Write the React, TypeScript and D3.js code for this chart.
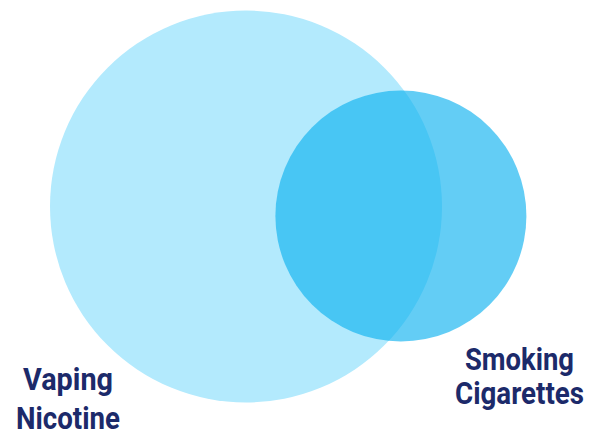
import * as d3 from "d3";
import React from "react";

// set sizes (share of respondents, vaping = 100)
const setNames = ["Vaping Nicotine", "Smoking Cigarettes"];
const setSizes = [100, 41];
const overlapSize = 26;
const labelLines = [
  ["Vaping", "Nicotine"],
  ["Smoking", "Cigarettes"],
];
const setColors = ["#b3eafd", "#0cb2f0"];
const setOpacity = [1, 0.645];

// intersection area of two circles at distance d
function overlapArea(r1: number, r2: number, d: number) {
  if (d >= r1 + r2) return 0;
  if (d <= Math.abs(r1 - r2)) return Math.PI * Math.min(r1, r2) ** 2;
  const a1 = Math.acos((d * d + r1 * r1 - r2 * r2) / (2 * d * r1));
  const a2 = Math.acos((d * d + r2 * r2 - r1 * r1) / (2 * d * r2));
  const k =
    (-d + r1 + r2) * (d + r1 - r2) * (d - r1 + r2) * (d + r1 + r2);
  return r1 * r1 * a1 + r2 * r2 * a2 - 0.5 * Math.sqrt(k);
}

// bisection for the distance that gives the wanted area
function distanceFor(r1: number, r2: number, area: number) {
  let lo = Math.abs(r1 - r2);
  let hi = r1 + r2;
  for (let i = 0; i < 60; i++) {
    const mid = (lo + hi) / 2;
    if (overlapArea(r1, r2, mid) > area) lo = mid;
    else hi = mid;
  }
  return (lo + hi) / 2;
}

export default function App() {
  const width = 604;
  const height = 432;

  const radius = d3.scaleSqrt().domain([0, setSizes[0]]).range([0, 196]);
  const radii = setSizes.map((s) => radius(s));
  const bigArea = Math.PI * radii[0] * radii[0];
  const d = distanceFor(radii[0], radii[1], (overlapSize / setSizes[0]) * bigArea);

  const origin = [246, 206.5];
  const angle = (3.5 * Math.PI) / 180;
  const centers = [
    origin,
    [origin[0] + d * Math.cos(angle), origin[1] + d * Math.sin(angle)],
  ];

  const labels = [
    { x: 68, y: [389.5, 428.5], widths: [90, 104] },
    { x: 519.5, y: [370, 403.5], widths: [109, 129] },
  ];

  return (
    <svg
      width={width}
      height={height}
      style={{ position: "absolute", left: 0, top: 0, background: "#fff" }}
    >
      {setNames.map((name, i) => (
        <circle
          key={name}
          cx={centers[i][0]}
          cy={centers[i][1]}
          r={radii[i]}
          fill={setColors[i]}
          fillOpacity={setOpacity[i]}
        />
      ))}
      {labelLines.map((lines, i) => (
        <text
          key={i}
          fill="#1c2a6a"
          fontFamily="Roboto, sans-serif"
          fontWeight={700}
          fontSize={31.5}
          textAnchor="middle"
        >
          {lines.map((line, j) => (
            <tspan
              key={line}
              x={labels[i].x}
              y={labels[i].y[j]}
              textLength={labels[i].widths[j]}
              lengthAdjust="spacingAndGlyphs"
            >
              {line}
            </tspan>
          ))}
        </text>
      ))}
    </svg>
  );
}
